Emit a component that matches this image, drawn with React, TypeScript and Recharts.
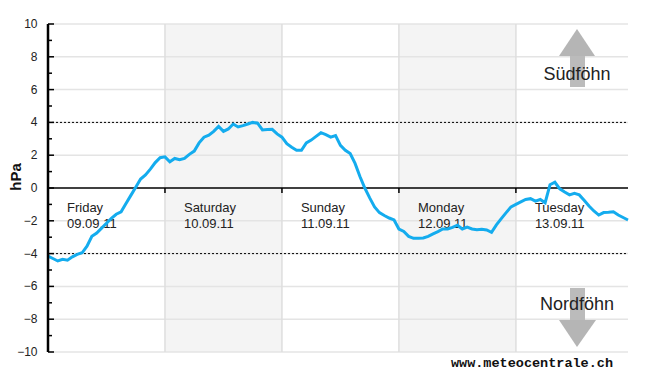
import React from "react";
import {
  LineChart,
  Line,
  XAxis,
  YAxis,
  ReferenceLine,
  ReferenceArea,
} from "recharts";

// pressure difference south-north (hPa), hourly from Friday 00:00
const hPaDiff = [
  -4.15, -4.3, -4.45, -4.35, -4.4, -4.2, -4.05, -3.95, -3.55, -2.95,
  -2.75, -2.45, -2.15, -1.85, -1.6, -1.45, -0.95, -0.45, 0.05, 0.55,
  0.8, 1.15, 1.55, 1.85, 1.9, 1.6, 1.8, 1.72, 1.8, 2.05,
  2.25, 2.75, 3.1, 3.22, 3.45, 3.75, 3.45, 3.6, 3.9, 3.72,
  3.8, 3.9, 4.0, 3.95, 3.54, 3.56, 3.58, 3.3, 3.1, 2.7,
  2.48, 2.3, 2.3, 2.75, 2.92, 3.15, 3.37, 3.25, 3.1, 3.2,
  2.6, 2.3, 2.1, 1.5, 0.7, 0.0, -0.6, -1.15, -1.5, -1.68,
  -1.83, -1.95, -2.5, -2.65, -2.95, -3.07, -3.07, -3.05, -2.95, -2.8,
  -2.66, -2.5, -2.5, -2.4, -2.27, -2.5, -2.38, -2.5, -2.55, -2.52,
  -2.56, -2.7, -2.25, -1.87, -1.5, -1.15, -1.0, -0.85, -0.7, -0.65,
  -0.8, -0.7, -0.9, 0.2, 0.35, -0.05, -0.25, -0.42, -0.33, -0.42,
  -0.75, -1.1, -1.4, -1.65, -1.5, -1.48, -1.45, -1.65, -1.8, -1.95,
];

const dayNames = ["Friday", "Saturday", "Sunday", "Monday", "Tuesday"];
const dayDates = ["09.09.11", "10.09.11", "11.09.11", "12.09.11", "13.09.11"];
const dayStarts = [0, 24, 48, 72, 96];
const weekendShaded = [24, 72];
const lastHour = 119;

const yTicks = [-10, -9, -8, -7, -6, -5, -4, -3, -2, -1, 0, 1, 2, 3, 4, 5, 6, 7, 8, 9, 10];
const gridValues = [-10, -8, -6, -4, -2, 2, 4, 6, 8, 10];
const foehnLimits = [4, -4];

const data = hPaDiff.map((v, h) => ({ h, v }));

const FONT = "'Liberation Sans', Arial, sans-serif";

const YTick = (props: any) => {
  const { x, y, payload } = props;
  const v = payload.value;
  const major = v % 2 === 0;
  return (
    <g>
      <line x1={x} x2={x + (major ? 6 : 4)} y1={y} y2={y} stroke="#000" strokeWidth={1.5} />
      {major && (
        <text x={x - 10.5} y={y} dy={4} textAnchor="end" fontSize={12} fontFamily={FONT} fill="#222">
          {v < 0 ? `\u2212${-v}` : v}
        </text>
      )}
    </g>
  );
};

const dayLabel = (i: number) => (props: any) => {
  const { viewBox } = props;
  return (
    <g>
      <text x={viewBox.x + 19} y={viewBox.y + 24} fontSize={13} fontFamily={FONT} fill="#222">
        {dayNames[i]}
      </text>
      <text x={viewBox.x + 19} y={viewBox.y + 40} fontSize={13} fontFamily={FONT} fill="#222">
        {dayDates[i]}
      </text>
    </g>
  );
};

export default function App() {
  return (
    <div style={{ position: "absolute", left: 0, top: 0, width: 650, height: 375, background: "#fff" }}>
      <LineChart
        width={650}
        height={375}
        data={data}
        margin={{ top: 24, right: 22, bottom: 23, left: 8 }}
      >
        <XAxis type="number" dataKey="h" domain={[0, lastHour]} hide height={0} />
        <YAxis
          type="number"
          domain={[-10, 10]}
          allowDataOverflow
          ticks={yTicks}
          interval={0}
          width={40}
          tickSize={0}
          tickMargin={0}
          tickLine={false}
          axisLine={{ stroke: "#000", strokeWidth: 2.5 }}
          tick={<YTick />}
        />
        {weekendShaded.map((d) => (
          <ReferenceArea key={"s" + d} x1={d} x2={d + 24} y1={-10} y2={10} fill="#f4f4f4" fillOpacity={1} stroke="none" />
        ))}
        {gridValues.map((g) => (
          <ReferenceLine key={"g" + g} y={g} stroke="#e4e4e4" strokeWidth={1.5} />
        ))}
        {dayStarts.slice(1).map((d) => (
          <ReferenceLine key={"v" + d} x={d} stroke="#dedede" strokeWidth={1.5} />
        ))}
        {foehnLimits.map((f) => (
          <ReferenceLine key={"f" + f} y={f} stroke="#000" strokeDasharray="2 2" strokeWidth={1} />
        ))}
        <ReferenceLine y={0} stroke="#000" strokeWidth={1.5} />
        {dayStarts.map((d, i) => (
          <ReferenceLine
            key={"t" + d}
            segment={[{ x: d, y: 0 }, { x: d, y: -0.3 }]}
            stroke="#000"
            strokeWidth={1.5}
            label={dayLabel(i)}
          />
        ))}
        <Line
          type="linear"
          dataKey="v"
          stroke="#14acee"
          strokeWidth={3}
          dot={false}
          isAnimationActive={false}
        />
      </LineChart>
      <svg
        width={650}
        height={375}
        style={{ position: "absolute", left: 0, top: 0, pointerEvents: "none" }}
      >
        <polygon points="577,29 559,56 595,56" fill="#b5b5b5" />
        <rect x={570} y={56} width={15} height={31} fill="#bbbbbb" />
        <text x={577} y={80} textAnchor="middle" fontSize={18} fontFamily={FONT} fill="#222">
          Südföhn
        </text>
        <rect x={570} y={288} width={15} height={32} fill="#bbbbbb" />
        <polygon points="559,320 596,320 577,347" fill="#b5b5b5" />
        <text x={577} y={310} textAnchor="middle" fontSize={18} fontFamily={FONT} fill="#222">
          Nordföhn
        </text>
        <text
          x={20.5}
          y={177}
          transform="rotate(-90, 20.5, 177)"
          textAnchor="middle"
          fontSize={15}
          fontWeight="bold"
          fontFamily={FONT}
          fill="#111"
        >
          hPa
        </text>
        <text
          x={613}
          y={367}
          textAnchor="end"
          fontSize={13.5}
          fontWeight="bold"
          fontFamily="'Liberation Mono', 'Courier New', monospace"
          fill="#111"
        >
          www.meteocentrale.ch
        </text>
      </svg>
    </div>
  );
}
